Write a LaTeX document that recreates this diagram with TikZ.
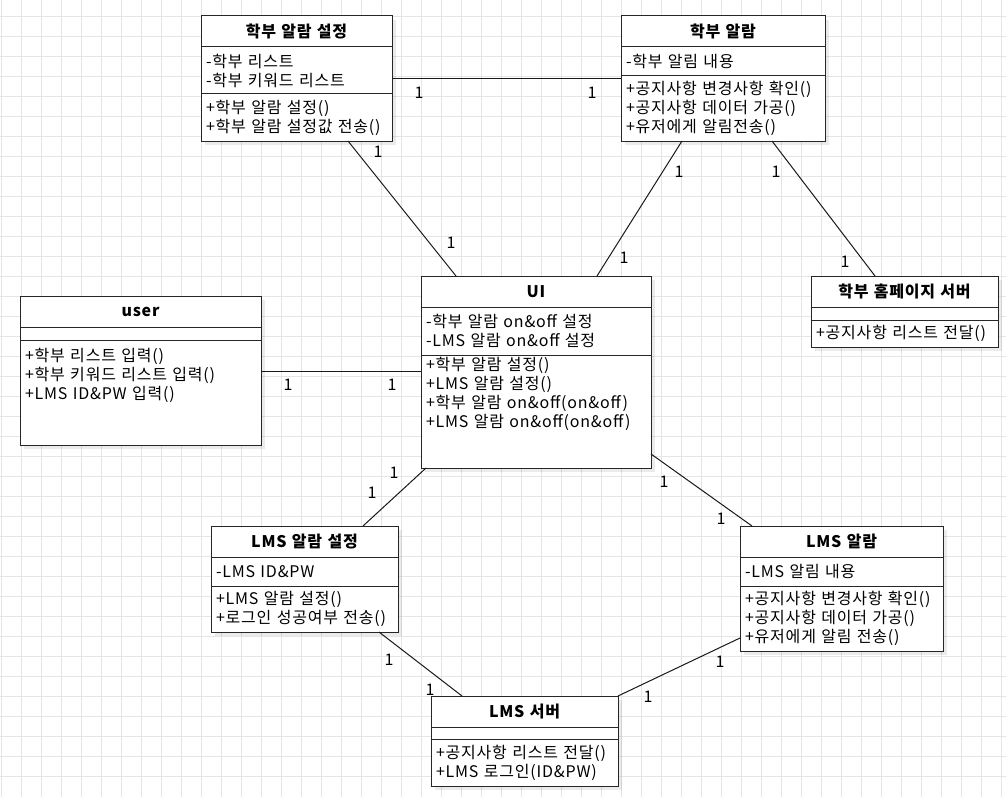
\documentclass[tikz,border=0pt]{standalone}
\usepackage{fontspec}
\setmainfont{Noto Sans CJK KR}[WordSpace=1.5,LetterSpace=5]
\usetikzlibrary{positioning,shadows}

\begin{document}
\begin{tikzpicture}[x=1pt,y=-1pt,
  every node/.style={font=\fontsize{16}{19}\selectfont},
  gridln/.style={draw=black!10,line width=.6pt},
  clsbox/.style={draw=black!85,line width=1pt,fill=white,outer sep=0pt,
    inner xsep=5pt,inner ysep=1pt,
    drop shadow={shadow xshift=4pt,shadow yshift=-4pt,opacity=.08,fill=black}},
  clsname/.style={clsbox,anchor=north west,align=center,minimum height=31pt,
    font=\fontsize{16}{19}\selectfont\bfseries},
  clspart/.style={clsbox,align=left},
  assoc/.style={draw=black!90,line width=1pt},
  mult/.style={inner sep=0pt}]
\fill[white] (0,0) rectangle (1006,797);
\useasboundingbox (0,0) rectangle (1006,797);
\foreach \gx in {1.7,21.7,...,1005} \draw[gridln] (\gx,0) -- (\gx,797);
\foreach \gy in {16.7,36.7,...,796} \draw[gridln] (0,\gy) -- (1006,\gy);
%
% 학부 알람 설정
\node[clsname,text width=181pt] (hbsetT) at (201,16) {학부 알람 설정};
\node[clspart,text width=181pt,minimum height=47pt,below=0pt of hbsetT] (hbsetA)
  {-학부 리스트\\-학부 키워드 리스트};
\node[clspart,text width=181pt,minimum height=47pt,below=0pt of hbsetA] (hbsetM)
  {+학부 알람 설정()\\+학부 알람 설정값 전송()};
%
% 학부 알람
\node[clsname,text width=194pt] (hbalT) at (621,16) {학부 알람};
\node[clspart,text width=194pt,minimum height=29pt,below=0pt of hbalT] (hbalA)
  {-학부 알림 내용};
\node[clspart,text width=194pt,minimum height=65pt,below=0pt of hbalA] (hbalM)
  {+공지사항 변경사항 확인()\\+공지사항 데이터 가공()\\+유저에게 알림전송()};
%
% user
\node[clsname,text width=231pt] (userT) at (20,296) {user};
\node[clspart,text width=231pt,minimum height=13pt,below=0pt of userT] (userA) {};
\node[clspart,text width=231pt,minimum height=105pt,below=0pt of userA] (userM)
  {+학부 리스트 입력()\\+학부 키워드 리스트 입력()\\+LMS ID\&PW 입력()\\\mbox{}\\\mbox{}};
%
% UI
\node[clsname,text width=220pt] (uiT) at (421,276) {UI};
\node[clspart,text width=220pt,minimum height=48pt,below=0pt of uiT] (uiA)
  {-학부 알람 on\&off 설정\\-LMS 알람 on\&off 설정};
\node[clspart,text width=220pt,minimum height=113pt,below=0pt of uiA] (uiM)
  {+학부 알람 설정()\\+LMS 알람 설정()\\+학부 알람 on\&off(on\&off)\\+LMS 알람 on\&off(on\&off)\\\mbox{}\\\mbox{}};
%
% 학부 홈페이지 서버
\node[clsname,text width=177pt] (homeT) at (811,276) {학부 홈페이지 서버};
\node[clspart,text width=177pt,minimum height=13pt,below=0pt of homeT] (homeA) {};
\node[clspart,text width=177pt,minimum height=27pt,below=0pt of homeA] (homeM)
  {+공지사항 리스트 전달()};
%
% LMS 알람 설정
\node[clsname,text width=177pt] (lmssetT) at (211,526) {LMS 알람 설정};
\node[clspart,text width=177pt,minimum height=29pt,below=0pt of lmssetT] (lmssetA)
  {-LMS ID\&PW};
\node[clspart,text width=177pt,minimum height=46pt,below=0pt of lmssetA] (lmssetM)
  {+LMS 알람 설정()\\+로그인 성공여부 전송()};
%
% LMS 알람
\node[clsname,text width=193pt] (lmsalT) at (740,526) {LMS 알람};
\node[clspart,text width=193pt,minimum height=29pt,below=0pt of lmsalT] (lmsalA)
  {-LMS 알림 내용};
\node[clspart,text width=193pt,minimum height=65pt,below=0pt of lmsalA] (lmsalM)
  {+공지사항 변경사항 확인()\\+공지사항 데이터 가공()\\+유저에게 알림 전송()};
%
% LMS 서버
\node[clsname,text width=177pt] (lmssvT) at (431,696) {LMS 서버};
\node[clspart,text width=177pt,minimum height=12pt,below=0pt of lmssvT] (lmssvA) {};
\node[clspart,text width=177pt,minimum height=47pt,below=0pt of lmssvA] (lmssvM)
  {+공지사항 리스트 전달()\\+LMS 로그인(ID\&PW)};
%
% associations
\draw[assoc] ([yshift=-8.5pt]hbsetA.east) -- ([yshift=-8.5pt]hbsetA.east -| hbalM.west);
\draw[assoc] ([xshift=51.5pt]hbsetM.south) -- ([xshift=-80pt]uiT.north);
\draw[assoc] ([xshift=-41pt]hbalM.south) -- ([xshift=61pt]uiT.north);
\draw[assoc] ([xshift=49pt]hbalM.south) -- ([xshift=-29.5pt]homeT.north);
\draw[assoc] ([yshift=21.5pt]userM.east) -- ([yshift=21.5pt]userM.east -| uiM.west);
\draw[assoc] ([xshift=5pt]uiM.south west) -- ([xshift=58.5pt]lmssetT.north);
\draw[assoc] ([yshift=-42.5pt]uiM.east) -- ([xshift=-89.5pt]lmsalT.north);
\draw[assoc] ([xshift=74.5pt]lmssetM.south) -- ([xshift=-62.5pt]lmssvT.north);
\draw[assoc] ([yshift=-19.5pt]lmsalM.west) -- (lmssvT.north east);
%
% multiplicities
\node[mult] (m1) at (419,93) {1};
\node[mult] (m2) at (592,93) {1};
\node[mult] (m3) at (378,152) {1};
\node[mult] (m4) at (451,243) {1};
\node[mult] (m5) at (679,172) {1};
\node[mult] (m6) at (624,258) {1};
\node[mult] (m7) at (776,172) {1};
\node[mult] (m8) at (845,262) {1};
\node[mult] (m9) at (288,385) {1};
\node[mult] (m10) at (392,385) {1};
\node[mult] (m11) at (394,473) {1};
\node[mult] (m12) at (372,493) {1};
\node[mult] (m13) at (664,482) {1};
\node[mult] (m14) at (721,519) {1};
\node[mult] (m15) at (389,660) {1};
\node[mult] (m16) at (430,690) {1};
\node[mult] (m17) at (720,662) {1};
\node[mult] (m18) at (648,697) {1};
\end{tikzpicture}
\end{document}
